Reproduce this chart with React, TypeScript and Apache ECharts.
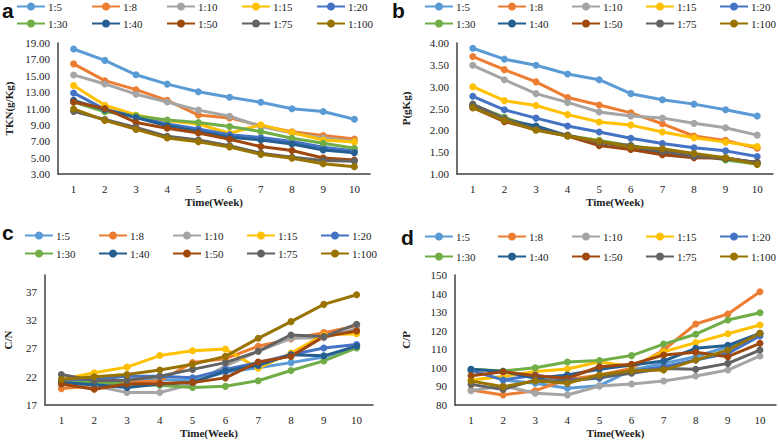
import React, { useEffect, useRef } from "react";
import * as echarts from "echarts";

const weeks = ["1", "2", "3", "4", "5", "6", "7", "8", "9", "10"];
const ratios = ["1:5", "1:8", "1:10", "1:15", "1:20", "1:30", "1:40", "1:50", "1:75", "1:100"];
const colors = ["#5B9BD5", "#ED7D31", "#A5A5A5", "#FFC000", "#4472C4", "#70AD47", "#255E91", "#9E480E", "#636363", "#997300"];

// a: TKN (g/Kg)
const tkn = [
  [18.27, 16.88, 15.12, 13.98, 13.04, 12.37, 11.76, 10.98, 10.63, 9.69],
  [16.45, 14.4, 13.3, 12.0, 10.2, 9.85, 8.9, 8.15, 7.7, 7.28],
  [15.1, 14.0, 12.75, 11.8, 10.8, 10.05, 8.8, 8.0, 7.4, 7.0],
  [13.8, 11.4, 10.2, 9.5, 9.1, 7.98, 9.0, 8.05, 7.16, 6.92],
  [12.9, 10.9, 10.0, 9.1, 8.5, 7.8, 7.45, 6.96, 6.27, 5.8],
  [11.8, 10.6, 10.1, 9.6, 9.3, 8.8, 8.18, 7.37, 6.75, 6.14],
  [12.0, 10.85, 9.9, 8.9, 8.2, 7.5, 7.16, 6.67, 5.94, 5.6],
  [11.8, 11.0, 9.3, 8.6, 8.0, 7.25, 6.35, 5.88, 4.95, 4.7],
  [10.65, 9.65, 8.7, 7.6, 7.15, 6.45, 5.55, 5.05, 4.65, 4.55],
  [10.95, 9.55, 8.45, 7.4, 6.95, 6.3, 5.4, 4.92, 4.25, 3.9],
];

// b: P (g/Kg)
const phos = [
  [3.88, 3.63, 3.49, 3.29, 3.16, 2.84, 2.7, 2.6, 2.47, 2.33],
  [3.69, 3.39, 3.11, 2.75, 2.58, 2.4, 2.15, 1.87, 1.77, 1.59],
  [3.49, 3.16, 2.84, 2.64, 2.42, 2.33, 2.28, 2.16, 2.06, 1.89],
  [3.0, 2.68, 2.57, 2.36, 2.19, 2.12, 1.96, 1.83, 1.73, 1.63],
  [2.78, 2.47, 2.28, 2.1, 1.96, 1.82, 1.7, 1.6, 1.53, 1.4],
  [2.58, 2.3, 2.05, 1.88, 1.77, 1.65, 1.55, 1.45, 1.32, 1.23],
  [2.57, 2.25, 2.1, 1.88, 1.72, 1.62, 1.5, 1.42, 1.35, 1.27],
  [2.52, 2.2, 2.02, 1.87, 1.65, 1.56, 1.44, 1.37, 1.36, 1.26],
  [2.6, 2.27, 2.02, 1.89, 1.72, 1.65, 1.52, 1.4, 1.37, 1.25],
  [2.52, 2.23, 2.0, 1.87, 1.75, 1.62, 1.58, 1.47, 1.37, 1.22],
];

// c: C/N
const cn = [
  [21.3, 21.0, 21.3, 21.5, 21.3, 22.8, 23.6, 24.5, 25.5, 27.4],
  [19.9, 20.4, 21.0, 21.3, 24.5, 25.2, 27.4, 28.7, 29.8, 31.0],
  [21.0, 20.4, 19.2, 19.2, 20.7, 23.9, 26.5, 28.8, 28.9, 30.5],
  [21.5, 22.7, 23.7, 25.75, 26.6, 26.9, 23.5, 26.2, 29.4, 29.6],
  [21.5, 21.5, 22.1, 22.1, 21.8, 23.3, 24.5, 25.9, 27.1, 27.7],
  [21.0, 21.0, 20.7, 20.5, 20.1, 20.3, 21.3, 23.1, 24.8, 27.1],
  [21.0, 20.6, 20.1, 20.7, 21.0, 23.0, 24.0, 25.9, 25.7, 27.4],
  [20.7, 19.8, 20.7, 20.8, 21.0, 21.8, 24.6, 25.6, 29.1, 30.1],
  [22.4, 21.3, 21.4, 22.1, 23.3, 24.5, 26.5, 29.4, 29.1, 31.3],
  [21.5, 22.0, 22.4, 23.2, 24.2, 25.6, 28.8, 31.75, 34.8, 36.5],
];

// d: C/P
const cp = [
  [98.8, 93.5, 91.7, 89.0, 90.4, 98.8, 102.4, 106.0, 111.4, 118.6],
  [88.1, 85.4, 87.7, 93.8, 96.2, 99.7, 109.6, 123.6, 129.0, 141.0],
  [87.7, 90.4, 86.3, 85.4, 90.2, 91.3, 92.9, 95.6, 98.8, 106.4],
  [93.5, 95.3, 98.0, 99.4, 103.3, 100.6, 108.7, 113.6, 118.4, 123.1],
  [98.5, 93.5, 96.2, 93.5, 94.4, 98.0, 100.6, 104.2, 107.8, 117.2],
  [99.2, 98.3, 100.1, 103.2, 103.9, 106.6, 112.8, 118.1, 125.8, 129.7],
  [99.2, 98.0, 94.4, 96.2, 99.2, 101.5, 103.7, 110.5, 112.1, 118.6],
  [95.8, 97.9, 95.8, 94.4, 100.6, 101.9, 106.9, 108.4, 106.0, 113.2],
  [91.1, 88.4, 93.5, 92.6, 94.9, 97.1, 99.7, 99.2, 102.4, 109.6],
  [92.9, 89.9, 92.9, 91.7, 96.2, 98.5, 98.8, 104.2, 109.6, 118.6],
];

const SERIF = "'Liberation Serif', 'Times New Roman', serif";
const SANS = "'Liberation Sans', Arial, sans-serif";

type Panel = {
  letter: string;
  letterX: number;
  letterY: number;
  data: number[][];
  grid: { left: number; top: number; width: number; height: number };
  yName: string;
  yGap: number;
  min: number;
  max: number;
  interval: number;
  decimals: number;
  hideMax: boolean;
  legendX: number[];
  legendY: number[];
};

const panels: Panel[] = [
  {
    letter: "a", letterX: 2, letterY: 0, data: tkn,
    grid: { left: 58, top: 43, width: 312, height: 131 },
    yName: "TKN(g/Kg)", yGap: 44, min: 3, max: 19, interval: 2, decimals: 2, hideMax: false,
    legendX: [16, 91, 166, 241, 316], legendY: [1, 18],
  },
  {
    letter: "b", letterX: 392, letterY: 0, data: phos,
    grid: { left: 457, top: 43, width: 316, height: 131 },
    yName: "P(gKg)", yGap: 46, min: 1, max: 4, interval: 0.5, decimals: 2, hideMax: false,
    legendX: [424, 497, 571, 645, 719], legendY: [1, 18],
  },
  {
    letter: "c", letterX: 2, letterY: 222, data: cn,
    grid: { left: 45, top: 275, width: 328, height: 130 },
    yName: "C/N", yGap: 32, min: 17, max: 40, interval: 5, decimals: 0, hideMax: true,
    legendX: [24, 98, 172, 246, 320], legendY: [230, 248],
  },
  {
    letter: "d", letterX: 401, letterY: 227, data: cp,
    grid: { left: 455, top: 275, width: 321, height: 130 },
    yName: "C/P", yGap: 44, min: 80, max: 150, interval: 10, decimals: 0, hideMax: false,
    legendX: [424, 497, 571, 645, 719], legendY: [231, 251],
  },
];

function buildOption() {
  const grid: any[] = [];
  const xAxis: any[] = [];
  const yAxis: any[] = [];
  const series: any[] = [];
  const legend: any[] = [];
  const graphic: any[] = [];
  const axisLine = { show: true, lineStyle: { color: "#404040", width: 1.5 } };

  panels.forEach((p, pi) => {
    grid.push({ ...p.grid });
    xAxis.push({
      type: "category",
      gridIndex: pi,
      data: weeks,
      boundaryGap: true,
      axisLine,
      axisTick: { show: false },
      axisLabel: { color: "#222", fontFamily: SERIF, fontSize: 11, margin: 9 },
      name: "Time(Week)",
      nameLocation: "middle",
      nameGap: 22,
      nameTextStyle: { color: "#222", fontFamily: SERIF, fontSize: 11, fontWeight: "bold" },
    });
    yAxis.push({
      type: "value",
      gridIndex: pi,
      min: p.min,
      max: p.max,
      interval: p.interval,
      axisLine,
      axisTick: { show: false },
      splitLine: { show: false },
      axisLabel: {
        color: "#222",
        fontFamily: SERIF,
        fontSize: 11,
        margin: 8,
        showMaxLabel: !p.hideMax,
        formatter: (v: number) => v.toFixed(p.decimals),
      },
      name: p.yName,
      nameLocation: "middle",
      nameGap: p.yGap,
      nameTextStyle: { color: "#222", fontFamily: SERIF, fontSize: 11, fontWeight: "bold" },
    });
    ratios.forEach((r, si) => {
      series.push({
        type: "line",
        name: r,
        xAxisIndex: pi,
        yAxisIndex: pi,
        data: p.data[si],
        color: colors[si],
        symbol: "circle",
        symbolSize: 7,
        showSymbol: true,
        lineStyle: { width: 3, color: colors[si] },
        itemStyle: { color: colors[si] },
        emphasis: { disabled: true },
      });
      const row = si < 5 ? 0 : 1;
      const col = si % 5;
      legend.push({
        data: [r],
        left: p.legendX[col],
        top: p.legendY[row],
        padding: 0,
        itemWidth: 28,
        itemHeight: 10,
        itemGap: 4,
        selectedMode: false,
        textStyle: { color: "#222", fontFamily: SERIF, fontSize: 11, padding: [0, 0, 0, -2] },
      });
    });
    graphic.push({
      type: "text",
      left: p.letterX,
      top: p.letterY,
      style: { text: p.letter, font: `bold 21px ${SANS}`, fill: "#111" },
    });
  });

  return { animation: false, backgroundColor: "#fff", grid, xAxis, yAxis, series, legend, graphic };
}

export default function App() {
  const ref = useRef<HTMLDivElement>(null);
  useEffect(() => {
    if (!ref.current) return;
    const chart = echarts.init(ref.current, null, { renderer: "svg" });
    chart.setOption(buildOption());
    return () => chart.dispose();
  }, []);
  return (
    <div
      ref={ref}
      style={{ position: "fixed", left: 0, top: 0, width: 778, height: 441, background: "#fff" }}
    />
  );
}
